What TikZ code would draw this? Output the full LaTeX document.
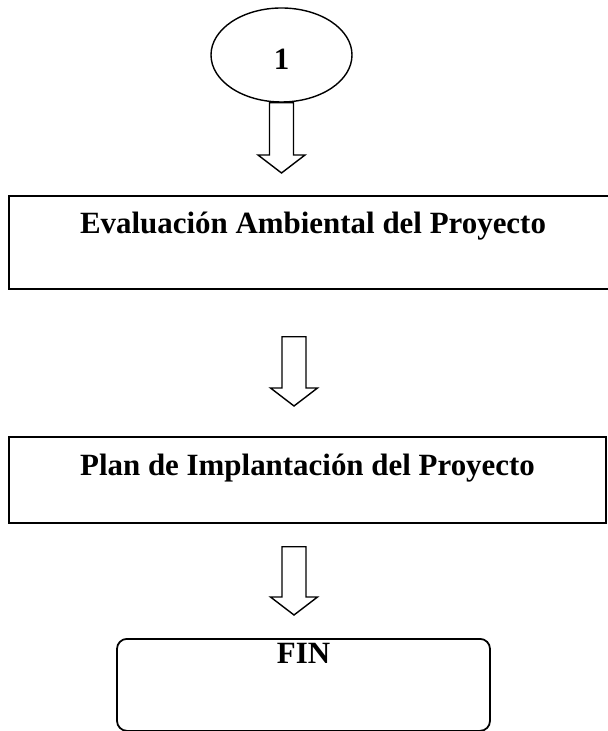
\documentclass[tikz,border=0pt]{standalone}
\usepackage{fontspec}
\setmainfont{Liberation Serif}
\usepackage{tikz}
\usetikzlibrary{positioning,shapes.geometric,calc}
\newcommand{\blockarr}[2]{%
  \draw[barr] let \p1=(#1), \p2=(#2) in
    (\x1-0.24cm,\y1) -- (\x1-0.24cm,\y2+0.36cm) -- (\x1-0.47cm,\y2+0.36cm)
    -- (\x1,\y2) -- (\x1+0.47cm,\y2+0.36cm) -- (\x1+0.24cm,\y2+0.36cm)
    -- (\x1+0.24cm,\y1) -- cycle;}

\begin{document}
\begin{tikzpicture}[
  stepbox/.style={
    draw, line width=1pt, anchor=north, inner sep=0pt,
    font=\bfseries\fontsize{17.6}{20}\selectfont, align=center
  },
  barr/.style={draw, line width=0.8pt}
]
\useasboundingbox (0,0) rectangle (12.14,-14.62);

\node[ellipse, draw, line width=0.8pt, inner sep=0pt,
  minimum width=2.82cm, minimum height=1.88cm, text height=0.6cm,
  font=\bfseries\fontsize{17.6}{20}\selectfont] (ell) at (5.63,-1.10) {1};

\node[stepbox, minimum width=12.16cm, text height=0.76cm, text depth=1.10cm]
  (eval) at (6.26,-3.90) {Evaluación Ambiental del Proyecto};
\node[stepbox, minimum width=11.94cm, text height=0.78cm, text depth=0.94cm]
  (plan) at (6.15,-8.72) {Plan de Implantación del Proyecto};
\node[stepbox, rounded corners=0.2cm, minimum width=7.46cm,
  text height=0.5cm, text depth=1.34cm]
  (fin) at (6.07,-12.76) {FIN};

\blockarr{ell.south}{[yshift=0.44cm]eval.north}
\blockarr{[xshift=-0.38cm,yshift=-0.94cm]eval.south}{[yshift=0.60cm]plan.north}
\blockarr{[xshift=-0.27cm,yshift=-0.46cm]plan.south}{[yshift=0.46cm]fin.north}

\end{tikzpicture}
\end{document}
